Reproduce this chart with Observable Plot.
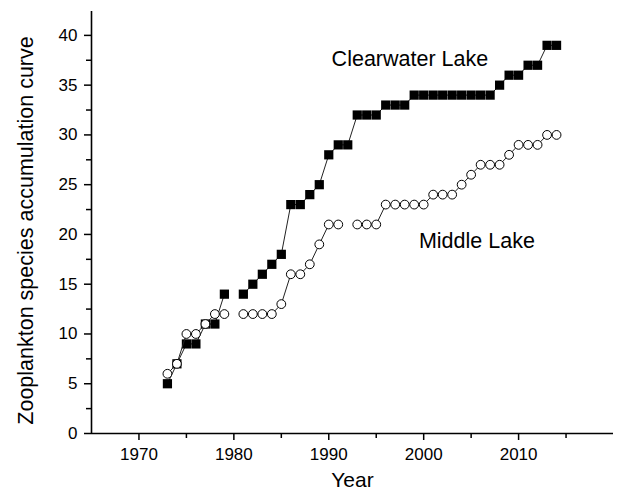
<!DOCTYPE html>
<html><head><meta charset="utf-8">
<script src="https://cdn.jsdelivr.net/npm/d3@7"></script>
<script src="https://cdn.jsdelivr.net/npm/@observablehq/plot@0.6"></script>
<style>body{margin:0;background:#fff;} svg{display:block;}</style>
</head><body><div id="chart"></div>
<script>
const years = [1973,1974,1975,1976,1977,1978,1979,1980,1981,1982,1983,1984,1985,1986,1987,1988,1989,1990,1991,1992,1993,1994,1995,1996,1997,1998,1999,2000,2001,2002,2003,2004,2005,2006,2007,2008,2009,2010,2011,2012,2013,2014];
const clearwater = [5,7,9,9,11,11,14,null,14,15,16,17,18,23,23,24,25,28,29,29,32,32,32,33,33,33,34,34,34,34,34,34,34,34,34,35,36,36,37,37,39,39];
const middle = [6,7,10,10,11,12,12,null,12,12,12,12,13,16,16,17,19,21,21,null,21,21,21,23,23,23,23,23,24,24,24,25,26,27,27,27,28,29,29,29,30,30];
const xMajorTicks = [1970,1980,1990,2000,2010];
const xMinorTicks = [1975,1985,1995,2005,2015];
const yMajorTicks = [0,5,10,15,20,25,30,35,40];
const yMinorTicks = [2.5,7.5,12.5,17.5,22.5,27.5,32.5,37.5];
const lakeNames = ["Clearwater Lake","Middle Lake"];
const lakeLabelYears = [1990.3,1999.5];
const lakeLabelValues = [37.6,19.3];
const xTitle = "Year";
const yTitle = "Zooplankton species accumulation curve";

const cw = years.map((y,i)=>({year:y, value:clearwater[i]}));
const ml = years.map((y,i)=>({year:y, value:middle[i]}));
const labels = lakeNames.map((n,i)=>({name:n, year:lakeLabelYears[i], value:lakeLabelValues[i]}));

const font = "Liberation Sans, Arial, sans-serif";
const chart = Plot.plot({
  width: 617, height: 490,
  marginTop: 11, marginRight: 4, marginBottom: 57, marginLeft: 91,
  style: {fontFamily: font, color: "#000", background: "#fff"},
  x: {domain: [1965, 2020]},
  y: {domain: [0, 42.4]},
  marks: [
    Plot.axisX(xMajorTicks, {tickSize: 7, tickPadding: 7, fontSize: 17, tickFormat: d => String(d), label: null, strokeWidth: 1.5}),
    Plot.axisX(xMinorTicks, {tickSize: 5, tickFormat: () => "", label: null, strokeWidth: 1.5}),
    Plot.axisY(yMajorTicks, {tickSize: 7, tickPadding: 7, fontSize: 17, tickFormat: d => String(d), label: null, strokeWidth: 1.5}),
    Plot.axisY(yMinorTicks, {tickSize: 5, tickFormat: () => "", label: null, strokeWidth: 1.5}),
    Plot.ruleX([1965], {stroke: "#000", strokeWidth: 1.6}),
    Plot.ruleY([0], {stroke: "#000", strokeWidth: 1.6}),
    Plot.line(cw, {x: "year", y: "value", stroke: "#222", strokeWidth: 1}),
    Plot.dot(cw, {x: "year", y: "value", symbol: "square", r: 5.2, fill: "#000", stroke: "none"}),
    Plot.line(ml, {x: "year", y: "value", stroke: "#222", strokeWidth: 1}),
    Plot.dot(ml, {x: "year", y: "value", symbol: "circle", r: 4.4, fill: "#fff", stroke: "#000", strokeWidth: 1}),
    Plot.text(labels, {x: "year", y: "value", text: "name", textAnchor: "start", fontSize: 21.5, fill: "#000"}),
    Plot.text([xTitle], {frameAnchor: "bottom", lineAnchor: "middle", textAnchor: "middle", dy: 47, fontSize: 21, fill: "#000"}),
    Plot.text([yTitle], {frameAnchor: "left", textAnchor: "middle", lineAnchor: "middle", rotate: -90, dx: -65, dy: 8, fontSize: 21.5, fill: "#000"})
  ]
});
document.getElementById("chart").appendChild(chart);
</script>
</body></html>
